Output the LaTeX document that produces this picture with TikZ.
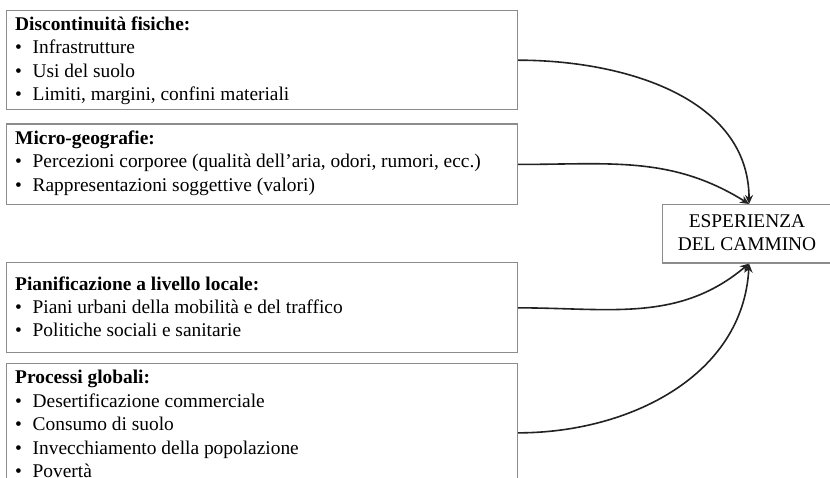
\documentclass[tikz,border=0pt]{standalone}
\usepackage{fontspec}
\setmainfont{Liberation Serif}
\usetikzlibrary{arrows.meta}
\definecolor{boxgray}{HTML}{8C8C8C}
\definecolor{linedark}{HTML}{222222}
\newcommand\blt{\makebox[17.5pt][l]{\textbullet}}
\tikzset{
  box/.style={draw=boxgray, line width=1.1pt, anchor=north west, inner sep=0pt, fill=white},
  txt/.style={anchor=base west, inner sep=0pt, font=\fontsize{19.4pt}{23.5pt}\selectfont},
  hd/.style={txt, font=\fontsize{19.4pt}{23.5pt}\selectfont\bfseries},
  conn/.style={draw=linedark, line width=1.6pt, -{Stealth[length=9pt,width=8pt,inset=3pt]}}
}
\begin{document}
\begin{tikzpicture}[x=1pt,y=1pt]
\useasboundingbox (0,0) rectangle (830,-478);
\clip (0,0) rectangle (830,-478);
\fill[white] (0,0) rectangle (830,-478);
% boxes
\node[box, minimum width=511pt, minimum height=99.3pt] (b1) at (6,-10) {};
\node[box, minimum width=511pt, minimum height=80.8pt] (b2) at (6,-123.5) {};
\node[box, minimum width=511pt, minimum height=90pt] (b3) at (6,-262.3) {};
\node[box, minimum width=511pt, minimum height=138pt] (b4) at (6,-363.3) {};
\node[box, minimum width=168pt, minimum height=58.5pt] (E) at (662,-204) {};
% texts box 1
\node[hd] (t1h) at (15,-30.7) {Discontinuità fisiche:};
\node[txt] (t1a) at (15,-54) {\blt Infrastrutture};
\node[txt] (t1b) at (15,-77.3) {\blt Usi del suolo};
\node[txt] (t1c) at (15,-100.5) {\blt Limiti, margini, confini materiali};
% texts box 2
\node[hd] (t2h) at (15,-144.5) {Micro-geografie:};
\node[txt] (t2a) at (15,-168) {\blt Percezioni corporee (qualità dell’aria, odori, rumori, ecc.)};
\node[txt] (t2b) at (15,-191.3) {\blt Rappresentazioni soggettive (valori)};
% texts box 3
\node[hd] (t3h) at (15,-290.5) {Pianificazione a livello locale:};
\node[txt] (t3a) at (15,-313.5) {\blt Piani urbani della mobilità e del traffico};
\node[txt] (t3b) at (15,-336.8) {\blt Politiche sociali e sanitarie};
% texts box 4
\node[hd] (t4h) at (15,-383.5) {Processi globali:};
\node[txt] (t4a) at (15,-407) {\blt Desertificazione commerciale};
\node[txt] (t4b) at (15,-430.5) {\blt Consumo di suolo};
\node[txt] (t4c) at (15,-454) {\blt Invecchiamento della popolazione};
\node[txt] (t4d) at (15,-477.3) {\blt Povertà};
% right box text
\node[anchor=base, inner sep=0pt, font=\fontsize{19.4pt}{23.5pt}\selectfont] (e1) at (747,-228) {ESPERIENZA};
\node[anchor=base, inner sep=0pt, font=\fontsize{19.4pt}{23.5pt}\selectfont] (e2) at (747,-251) {DEL CAMMINO};
% connectors
\draw[conn] (b1.east) to[out=0,in=90] ([xshift=2.5pt]E.north);
\draw[conn] (b2.east) to[out=0,in=148] ([xshift=2.5pt]E.north);
\draw[conn] (b3.east) to[out=0,in=-140] ([xshift=2.5pt]E.south);
\draw[conn] (b4.east) to[out=0,in=-93] ([xshift=2.5pt]E.south);
\end{tikzpicture}
\end{document}
